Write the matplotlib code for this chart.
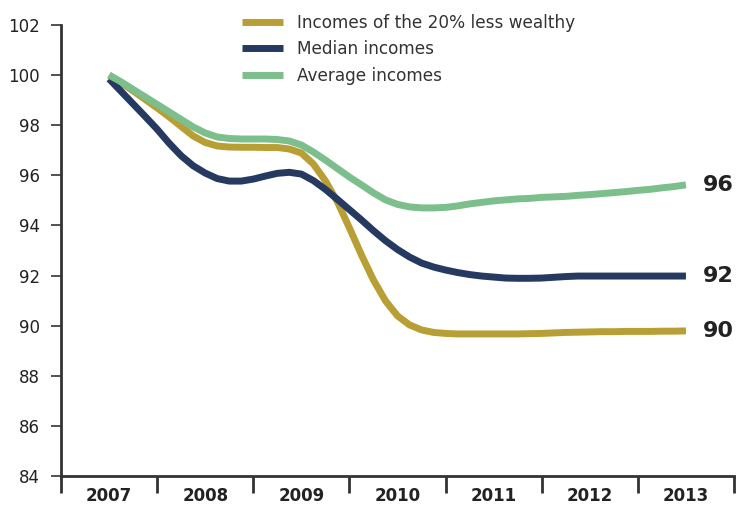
import numpy as np
import matplotlib
matplotlib.use("Agg")
import matplotlib.pyplot as plt

YEARS = ["2007", "2008", "2009", "2010", "2011", "2012", "2013"]

# readings every eighth of a year (0 = 2007, 6 = 2013)
pos = np.arange(49) / 8

poorest = [100.0, 99.69, 99.37, 99.03, 98.69, 98.33, 97.95, 97.57,
           97.31, 97.17, 97.13, 97.12, 97.12, 97.11, 97.11, 97.05,
           96.89, 96.45, 95.78, 94.94, 93.90, 92.82, 91.82, 90.99,
           90.39, 90.03, 89.83, 89.73, 89.69, 89.67, 89.67, 89.67,
           89.67, 89.67, 89.67, 89.68, 89.69, 89.71, 89.73, 89.74,
           89.75, 89.76, 89.76, 89.77, 89.77, 89.77, 89.78, 89.78, 89.79]
median = [99.85, 99.35, 98.85, 98.35, 97.84, 97.28, 96.78, 96.38,
          96.09, 95.87, 95.77, 95.77, 95.85, 95.97, 96.08, 96.12,
          96.05, 95.79, 95.44, 95.04, 94.63, 94.22, 93.79, 93.39,
          93.04, 92.74, 92.50, 92.34, 92.22, 92.12, 92.04, 91.98,
          91.94, 91.90, 91.89, 91.89, 91.90, 91.93, 91.96, 91.98,
          91.98, 91.98, 91.98, 91.98, 91.98, 91.98, 91.98, 91.98, 91.98]
average = [100.0, 99.73, 99.43, 99.13, 98.83, 98.53, 98.23, 97.93,
           97.69, 97.53, 97.47, 97.45, 97.45, 97.45, 97.43, 97.37,
           97.21, 96.93, 96.61, 96.27, 95.93, 95.62, 95.30, 95.02,
           94.84, 94.74, 94.70, 94.70, 94.72, 94.78, 94.86, 94.92,
           94.98, 95.02, 95.06, 95.08, 95.12, 95.14, 95.16, 95.20,
           95.23, 95.27, 95.31, 95.35, 95.40, 95.44, 95.50, 95.55, 95.62]

labels = ["Incomes of the 20% less wealthy", "Median incomes", "Average incomes"]
colors = ["#B89F35", "#253961", "#7CBF8C"]
end_labels = ["90", "92", "96"]

fig = plt.figure(figsize=(7.36, 5.08), dpi=100)
ax = fig.add_axes([0.0829, 0.063, 0.9144, 0.8878])

for series, lab, col in zip([poorest, median, average], labels, colors):
    ax.plot(pos, series, color=col, lw=5, label=lab,
            solid_capstyle="butt", solid_joinstyle="round")

for series, txt in zip([poorest, median, average], end_labels):
    ax.annotate(txt, (pos[-1], series[-1]), xytext=(12.5, 0), textcoords="offset points",
                va="center", ha="left", fontsize=16, fontweight="bold", color="#222222")

ax.set_xlim(-0.5, 6.5)
ax.set_ylim(84, 102)
ax.set_yticks(np.arange(84, 103, 2))
ax.set_xticks(np.arange(-0.5, 7, 1))
ax.set_xticklabels([])
ax.set_xticks(range(len(YEARS)), minor=True)
ax.set_xticklabels(YEARS, minor=True, fontweight="bold", fontsize=12, color="#222222")

for s in ["top", "right"]:
    ax.spines[s].set_visible(False)
for s in ["left", "bottom"]:
    ax.spines[s].set_color("#333333")
    ax.spines[s].set_linewidth(2)

ax.tick_params(axis="x", which="major", length=12, width=2, color="#333333")
ax.tick_params(axis="x", which="minor", length=0, pad=8)
ax.tick_params(axis="y", length=7, width=1.2, color="#333333", pad=8,
               labelsize=12, labelcolor="#222222")

leg = ax.legend(loc="upper left", bbox_to_anchor=(0.308, 1.003), bbox_transform=fig.transFigure,
                frameon=False, fontsize=12.2, handlelength=2.4, handletextpad=0.85,
                labelspacing=0.5)
for t in leg.get_texts():
    t.set_color("#333333")

fig.savefig("out.png", dpi=100)
